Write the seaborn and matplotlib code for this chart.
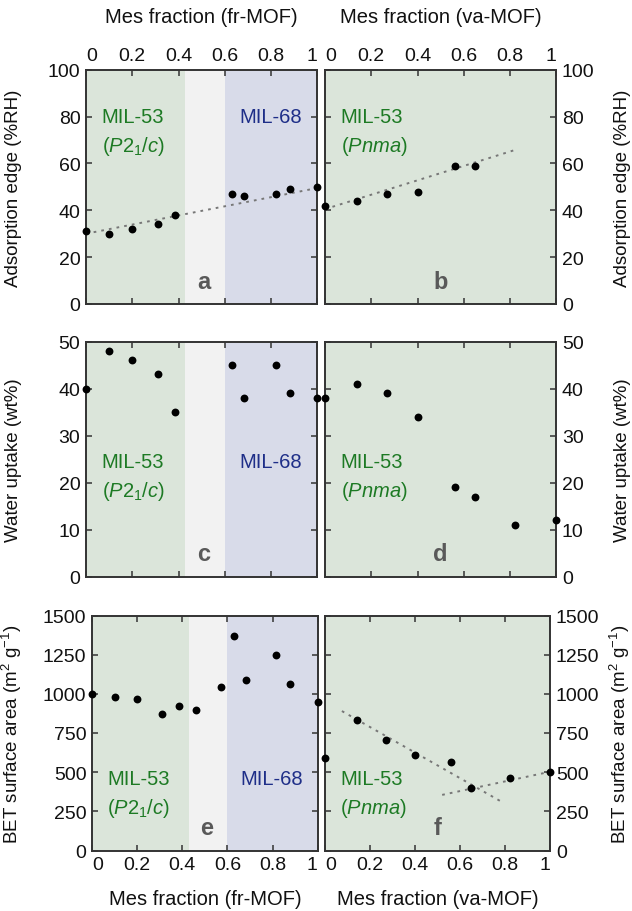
import matplotlib
matplotlib.use("Agg")
import matplotlib.pyplot as plt
import seaborn as sns
from matplotlib.ticker import FuncFormatter, MultipleLocator

# ---------------- data ----------------
frac_fr = [0, 0.10, 0.20, 0.31, 0.385, 0.63, 0.684, 0.82, 0.88, 1.0]
edge_fr = [31, 30, 32, 34, 38, 47, 46, 47, 49, 50]
uptake_fr = [40, 48, 46, 43, 35, 45, 38, 45, 39, 38]
frac_fr_bet = [0, 0.10, 0.20, 0.31, 0.385, 0.46, 0.572, 0.63, 0.684, 0.817, 0.877, 1.0]
bet_fr = [1000, 980, 970, 870, 925, 895, 1045, 1370, 1090, 1245, 1065, 950]

frac_va = [0, 0.14, 0.27, 0.40, 0.56, 0.65, 0.82, 1.0]
edge_va = [42, 44, 47, 48, 59, 59]
uptake_va = [38, 41, 39, 34, 19, 17, 11, 12]
bet_va = [590, 830, 705, 610, 565, 400, 460, 500]

trend_a_x, trend_a_y = [0, 1.0], [30, 49.5]
trend_b_x, trend_b_y = [0, 0.83], [40.5, 66]
trend_f1_x, trend_f1_y = [0.075, 0.785], [890, 310]
trend_f2_x, trend_f2_y = [0.52, 1.0], [355, 503]

phase_bounds = [0.0, 0.43, 0.60, 1.0]

x_ticks = [0, 0.2, 0.4, 0.6, 0.8, 1.0]
ylabels = ["Adsorption edge (%RH)", "Water uptake (wt%)", r"BET surface area (m$^2$ g$^{-1}$)"]
ylims = [(0, 100, 20), (0, 50, 10), (0, 1500, 250)]
letters = [["a", "b"], ["c", "d"], ["e", "f"]]

# ---------------- style ----------------
sns.set_theme(style="ticks")
plt.rcParams["font.family"] = ["Liberation Sans", "DejaVu Sans"]
plt.rcParams["mathtext.fontset"] = "custom"
plt.rcParams["mathtext.rm"] = "Liberation Sans"
plt.rcParams["mathtext.it"] = "Liberation Sans:italic"
plt.rcParams["mathtext.bf"] = "Liberation Sans:bold"

GREEN_BG = "#dbe5da"
GRAY_BG = "#f2f2f2"
BLUE_BG = "#d8dbe9"
GREEN_TX = "#1d7a24"
BLUE_TX = "#1e2e88"
LETTER = "#595959"
SPINE = "#333333"
TXT = "#111111"
FS_TICK = 14
FS_XLAB = 14.5
FS_YLAB = 13.5
FS_NOTE = 14.5

W, H = 632, 912
fig = plt.figure(figsize=(W / 100, H / 100), dpi=100)
fig.patch.set_facecolor("white")


def rect(l, r, t, b):
    return [l / W, 1 - b / H, (r - l) / W, (b - t) / H]


rows_tb = [(70.7, 305), (342.5, 577.5), (616.5, 851.5)]
cols_lr = [[(86, 317.3), (325, 556.3)], [(86, 317.3), (325, 556.3)], [(92, 317.7), (325, 550.3)]]

axes = [[None, None] for _ in range(3)]
for r in range(3):
    for c in range(2):
        l, rr = cols_lr[r][c]
        t, b = rows_tb[r]
        axes[r][c] = fig.add_axes(rect(l, rr, t, b))

fmt = FuncFormatter(lambda v, p: f"{v:g}")

# trend lines
line_kw = dict(color="#777777", linewidth=1.4, linestyle=(0, (1.4, 2.6)), zorder=2)
sns.lineplot(x=trend_a_x, y=trend_a_y, ax=axes[0][0], **line_kw)
sns.lineplot(x=trend_b_x, y=trend_b_y, ax=axes[0][1], **line_kw)
sns.lineplot(x=trend_f1_x, y=trend_f1_y, ax=axes[2][1], **line_kw)
sns.lineplot(x=trend_f2_x, y=trend_f2_y, ax=axes[2][1], **line_kw)

# points
pt_kw = dict(color="black", s=32, linewidth=0, clip_on=False, zorder=5)
sns.scatterplot(x=frac_fr, y=edge_fr, ax=axes[0][0], **pt_kw)
sns.scatterplot(x=frac_va[:len(edge_va)], y=edge_va, ax=axes[0][1], **pt_kw)
sns.scatterplot(x=frac_fr, y=uptake_fr, ax=axes[1][0], **pt_kw)
sns.scatterplot(x=frac_va, y=uptake_va, ax=axes[1][1], **pt_kw)
sns.scatterplot(x=frac_fr_bet, y=bet_fr, ax=axes[2][0], **pt_kw)
sns.scatterplot(x=frac_va, y=bet_va, ax=axes[2][1], **pt_kw)

for r in range(3):
    for c in range(2):
        ax = axes[r][c]
        ax.set_xlim(0, 1)
        y0, y1, st = ylims[r]
        ax.set_ylim(y0, y1)
        ax.yaxis.set_major_locator(MultipleLocator(st))
        ax.set_xticks(x_ticks)
        ax.xaxis.set_major_formatter(fmt)
        # backgrounds
        if c == 0:
            ax.axvspan(phase_bounds[0], phase_bounds[1], color=GREEN_BG, lw=0, zorder=0)
            ax.axvspan(phase_bounds[1], phase_bounds[2], color=GRAY_BG, lw=0, zorder=0)
            ax.axvspan(phase_bounds[2], phase_bounds[3], color=BLUE_BG, lw=0, zorder=0)
        else:
            ax.axvspan(0, 1, color=GREEN_BG, lw=0, zorder=0)
        for s in ax.spines.values():
            s.set_visible(True)
            s.set_color(SPINE)
            s.set_linewidth(1.4)
        ax.tick_params(direction="in", length=4, width=1.1, color=SPINE,
                       top=True, bottom=True, left=True, right=True,
                       labelsize=FS_TICK, labelcolor=TXT)
        ax.tick_params(axis="x", pad=4)
        ax.tick_params(axis="y", pad=4)
        if r == 0:
            ax.tick_params(labeltop=True, labelbottom=False)
        elif r == 2:
            ax.tick_params(labeltop=False, labelbottom=True)
        else:
            ax.tick_params(labeltop=False, labelbottom=False)
        if c == 0:
            ax.tick_params(labelleft=True, labelright=False)
        else:
            ax.tick_params(labelleft=False, labelright=True)
            ax.yaxis.set_label_position("right")
        ax.set_xlabel("")
        ax.set_ylabel(ylabels[r], fontsize=FS_YLAB, color=TXT, rotation=90)
        # end tick labels pulled inward
        ticks = ax.xaxis.get_major_ticks()
        for lbl in (ticks[0].label1, ticks[0].label2):
            lbl.set_horizontalalignment("left")
        for lbl in (ticks[-1].label1, ticks[-1].label2):
            lbl.set_horizontalalignment("right")
        # panel letters
        ax.text(0.51 if c == 0 else 0.5, 0.07, letters[r][c], transform=ax.transAxes,
                ha="center", va="baseline", fontsize=17, fontweight="bold",
                color=LETTER, zorder=3)

# y-label positions
for r in range(3):
    axL, axR = axes[r]
    if r < 2:
        axL.yaxis.set_label_coords(-0.277, 0.5)
        axR.yaxis.set_label_coords(1.250, 0.5)
    else:
        axL.yaxis.set_label_coords(-0.300, 0.5)
        axR.yaxis.set_label_coords(1.255, 0.5)

# x-axis titles
for c, name in enumerate(["Mes fraction (fr-MOF)", "Mes fraction (va-MOF)"]):
    axes[0][c].text(0.5, 1.225, name, transform=axes[0][c].transAxes, ha="center",
                    va="center", fontsize=FS_XLAB, color=TXT)
    axes[2][c].text(0.5, -0.205, name, transform=axes[2][c].transAxes, ha="center",
                    va="center", fontsize=FS_XLAB, color=TXT)

# phase labels
label_y = [0.80, 0.49, 0.307]
for r in range(3):
    axL, axR = axes[r]
    y = label_y[r]
    axL.text(0.068, y, "MIL-53", transform=axL.transAxes, ha="left", va="center",
             fontsize=FS_NOTE, color=GREEN_TX, zorder=3)
    axL.text(0.068, y - 0.123, r"($P$2$_{\mathrm{1}}$/$c$)", transform=axL.transAxes,
             ha="left", va="center", fontsize=FS_NOTE, color=GREEN_TX, zorder=3)
    axL.text(0.935, y, "MIL-68", transform=axL.transAxes, ha="right", va="center",
             fontsize=FS_NOTE, color=BLUE_TX, zorder=3)
    axR.text(0.068, y, "MIL-53", transform=axR.transAxes, ha="left", va="center",
             fontsize=FS_NOTE, color=GREEN_TX, zorder=3)
    axR.text(0.068, y - 0.123, r"($Pnma$)", transform=axR.transAxes, ha="left",
             va="center", fontsize=FS_NOTE, color=GREEN_TX, zorder=3)

fig.savefig("out.png", dpi=100, facecolor="white")
